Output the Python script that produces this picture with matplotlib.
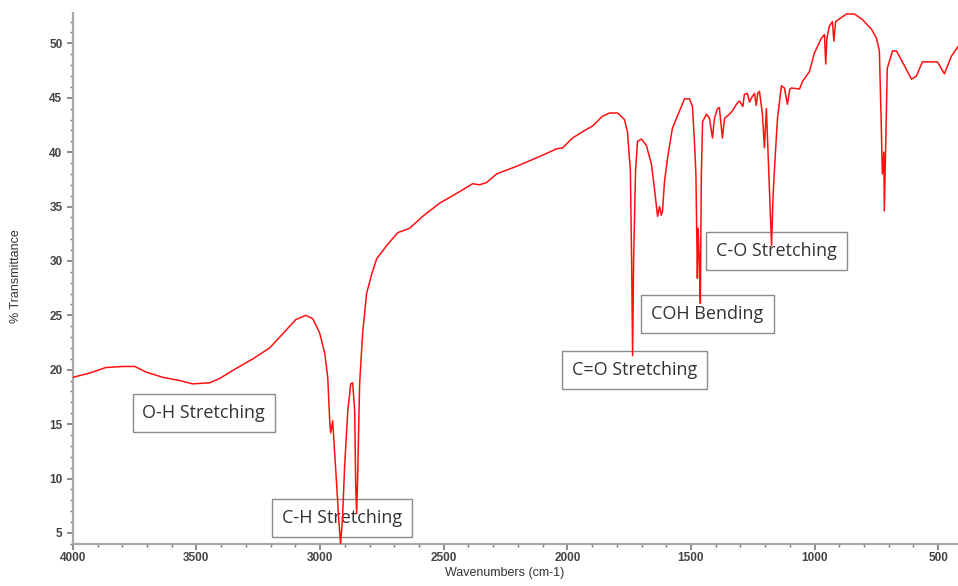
import numpy as np
import matplotlib
matplotlib.use("Agg")
import matplotlib.pyplot as plt
from matplotlib.ticker import MultipleLocator

# wavenumber (cm-1) and %T
wavenumber = [4000, 3931, 3867, 3798, 3749, 3705, 3636, 3567, 3515, 3446, 3406, 3341,
              3272, 3204, 3151, 3099, 3058, 3030, 3002, 2981, 2969, 2961, 2957, 2949,
              2945, 2933, 2925, 2917, 2909, 2901, 2888, 2876, 2868, 2860, 2856, 2852,
              2848, 2840, 2828, 2812, 2791, 2771, 2731, 2686, 2638, 2585, 2517, 2448,
              2383, 2355, 2327, 2286, 2205, 2112, 2044, 2019, 1979, 1922, 1898, 1858,
              1829, 1797, 1769, 1757, 1745, 1740, 1736, 1732, 1724, 1716, 1700, 1680,
              1660, 1648, 1635, 1627, 1620, 1615, 1607, 1595, 1575, 1546, 1526, 1506,
              1494, 1486, 1480, 1474, 1471, 1466, 1462, 1458, 1453, 1437, 1425, 1413,
              1405, 1393, 1385, 1373, 1364, 1344, 1332, 1316, 1304, 1290, 1284, 1272,
              1263, 1255, 1243, 1236, 1230, 1223, 1211, 1203, 1195, 1188, 1182, 1174,
              1168, 1158, 1150, 1134, 1122, 1110, 1100, 1094, 1061, 1049, 1021, 1001,
              972, 960, 955, 950, 940, 928, 922, 915, 871, 839, 807, 770,
              750, 738, 730, 726, 720, 718, 714, 706, 685, 669, 645, 608,
              588, 564, 536, 503, 475, 447, 420]
transmittance = [19.3, 19.7, 20.2, 20.3, 20.3, 19.8, 19.3, 19.0, 18.7, 18.8, 19.2, 20.1,
                 21.0, 22.0, 23.3, 24.6, 25.0, 24.7, 23.4, 21.5, 19.3, 15.3, 14.2, 15.3,
                 13.8, 9.5, 6.4, 4.0, 6.4, 11.0, 16.2, 18.7, 18.8, 16.2, 9.5, 6.8,
                 10.1, 18.7, 23.3, 27.0, 28.8, 30.2, 31.4, 32.6, 33.0, 34.1, 35.3, 36.2,
                 37.1, 37.0, 37.2, 38.0, 38.7, 39.6, 40.3, 40.4, 41.3, 42.1, 42.4, 43.3,
                 43.6, 43.6, 43.0, 41.9, 38.3, 30.0, 21.3, 30.0, 38.3, 41.0, 41.2, 40.6,
                 38.9, 36.7, 34.1, 35.0, 34.2, 34.6, 37.3, 39.4, 42.2, 43.8, 44.9, 44.9,
                 44.2, 41.0, 38.0, 28.4, 33.0, 30.0, 26.1, 38.0, 42.8, 43.5, 43.1, 41.3,
                 43.1, 44.0, 44.1, 41.3, 43.1, 43.5, 43.8, 44.4, 44.7, 44.2, 45.3, 45.4,
                 44.6, 45.0, 45.4, 44.3, 45.4, 45.6, 43.5, 40.4, 44.0, 39.8, 36.0, 31.4,
                 36.0, 40.1, 43.1, 46.1, 45.9, 44.4, 45.8, 45.9, 45.8, 46.5, 47.4, 49.1,
                 50.5, 50.8, 48.1, 50.5, 51.6, 52.0, 50.2, 52.0, 52.7, 52.7, 52.2, 51.3,
                 50.5, 49.3, 42.2, 38.0, 40.0, 34.6, 38.9, 47.7, 49.3, 49.3, 48.3, 46.7,
                 47.0, 48.3, 48.3, 48.3, 47.2, 48.8, 49.7]

labels = ["O-H Stretching", "C-H Stretching", "C=O Stretching", "COH Bending", "C-O Stretching"]
label_x = [3470, 2913, 1728, 1433, 1154]
label_y = [16.05, 6.4, 20.0, 25.1, 30.9]

fig = plt.figure(figsize=(9.58, 5.86), dpi=100)
ax = fig.add_axes([0.076, 0.072, 0.924, 0.906])

ax.plot(wavenumber, transmittance, color="#ff1010", lw=1.1, zorder=3)

for txt, x, y in zip(labels, label_x, label_y):
    ax.text(x, y, txt, ha="center", va="center", fontsize=13, family="Open Sans",
            color="#333333", zorder=2,
            bbox=dict(boxstyle="square,pad=0.55", fc="white", ec="#8c8c8c", lw=1.0))

ax.set_xlim(4000, 420)
ax.set_ylim(4.0, 52.8)
ax.xaxis.set_major_locator(MultipleLocator(500))
ax.xaxis.set_minor_locator(MultipleLocator(100))
ax.yaxis.set_major_locator(MultipleLocator(5))
ax.yaxis.set_minor_locator(MultipleLocator(1))

for s in ["top", "right"]:
    ax.spines[s].set_visible(False)
for s in ["left", "bottom"]:
    ax.spines[s].set_color("#a8a8a8")
    ax.spines[s].set_linewidth(1.6)

ax.tick_params(which="major", length=4, width=1.2, color="#777777", labelsize=8.5,
               labelcolor="#444444")
ax.tick_params(which="minor", length=2, width=1.0, color="#777777")
ax.tick_params(axis="x", which="major", pad=2)
for lab in ax.get_xticklabels() + ax.get_yticklabels():
    lab.set_fontweight("bold")
    lab.set_family("Liberation Sans")

fig.text(0.527, 0.012, "Wavenumbers (cm-1)", ha="center", va="bottom", fontsize=9,
         family="Liberation Sans", color="#333333")
fig.text(0.017, 0.529, "% Transmittance", ha="center", va="center", rotation=90,
         fontsize=9, family="Liberation Sans", color="#333333")

fig.savefig("out.png", dpi=100)
